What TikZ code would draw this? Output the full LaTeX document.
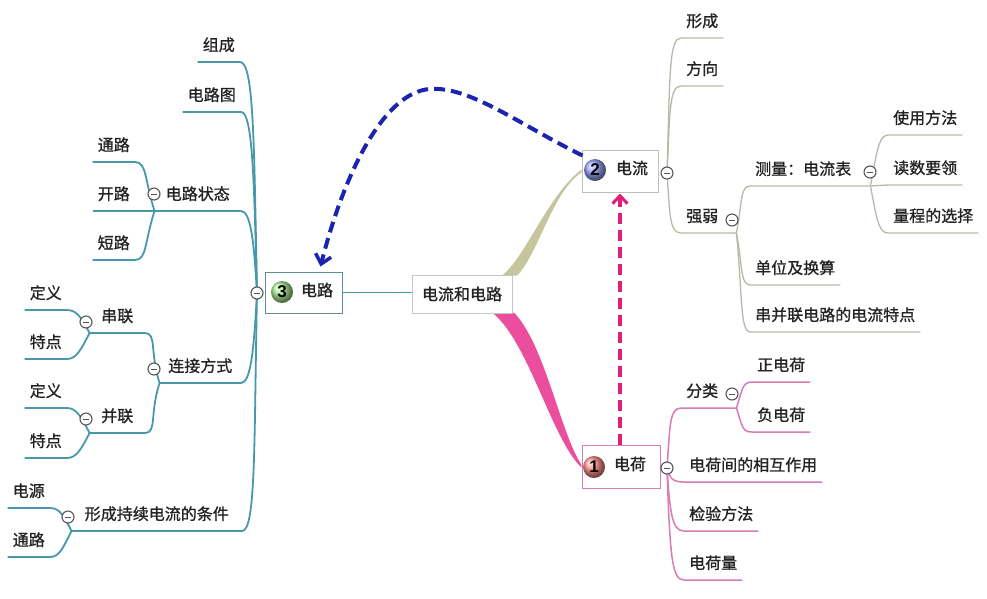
\documentclass[tikz,border=0pt]{standalone}
\usepackage{fontspec}
\setmainfont{Noto Sans CJK SC}
\newfontfamily\cjkb{Noto Sans CJK SC}[FakeBold=1]
\newfontfamily\numfont{Liberation Sans}
\usetikzlibrary{arrows.meta,calc}
\definecolor{tealc}{RGB}{72,152,172}
\definecolor{greyc}{RGB}{185,185,170}
\definecolor{pinkc}{RGB}{215,125,180}
\definecolor{khakic}{RGB}{198,198,158}
\definecolor{pinkw}{RGB}{236,78,158}
\definecolor{blued}{RGB}{28,36,175}
\definecolor{pinkd}{RGB}{226,30,120}
\definecolor{txtc}{RGB}{35,35,35}
\definecolor{colc}{RGB}{85,85,85}
\pgfdeclarelayer{back}
\pgfdeclarelayer{bg}
\pgfsetlayers{back,bg,main}
\begin{document}
\begin{tikzpicture}[x=1pt,y=-1pt,
  txt/.style={font=\cjkb\fontsize{16}{18}\selectfont, text=txtc, inner xsep=5pt, inner ysep=2pt, text height=14pt, text depth=9pt},
  lf/.style={txt, anchor=south east},
  rt/.style={txt, anchor=south west},
  col/.style={circle, draw=colc, line width=1.1pt, fill=white, minimum size=12pt, inner sep=0pt,
     path picture={\draw[colc, line width=1pt] ([xshift=-2.8pt]path picture bounding box.center) -- ([xshift=2.8pt]path picture bounding box.center);}},
  mbox/.style={rectangle, fill=white, line width=1pt, inner sep=0pt, font=\cjkb\fontsize{16}{18}\selectfont, text=txtc},
  ball/.style={circle, inner sep=0pt, minimum size=22pt, font=\numfont\bfseries\fontsize{17}{17}\selectfont, text=black},
  mtxt/.style={font=\cjkb\fontsize{16}{18}\selectfont, text=txtc, inner sep=0pt},
  tl/.style={draw=tealc, line width=1.8pt},
  gl/.style={draw=greyc, line width=1.3pt},
  pl/.style={draw=pinkc, line width=1.5pt},
]
\begin{pgfonlayer}{back}
\fill[white] (0,0) rectangle (987,598);
\end{pgfonlayer}
\useasboundingbox (0,0) rectangle (987,598);

% main boxes
\node[mbox, draw=gray!45, minimum width=100pt, minimum height=38pt] (c) at (462,294) {电流和电路};
\node[mbox, draw=tealc!55!gray, minimum width=77pt, minimum height=41pt] (n3) at (303.5,292.5) {};
\node[ball, ball color={rgb,255:red,175;green,240;blue,150}] (b3) at (282,292) {3};
\node[mtxt] (t3) at (317,290) {电路};
\node[mbox, draw=gray!50, minimum width=76pt, minimum height=42pt] (n2) at (620,171) {};
\node[ball, ball color={rgb,255:red,155;green,165;blue,250}] (b2) at (595,170) {2};
\node[mtxt] (t2) at (632,168) {电流};
\node[mbox, draw=pinkc, minimum width=78pt, minimum height=43pt] (n1) at (621,466.5) {};
\node[ball, ball color={rgb,255:red,255;green,150;blue,140}] (b1) at (594,467) {1};
\node[mtxt] (t1) at (630,464) {电荷};

% left leaves
\node[lf] (zc) at (240,62) {组成};
\node[lf] (dlt) at (241,112) {电路图};
\node[lf, text width=76pt, align=center] (zt) at (241,211) {电路状态};
\node[lf] (tl1) at (135,162) {通路};
\node[lf] (kl) at (135,211) {开路};
\node[lf] (dl) at (135,260) {短路};
\node[lf, text width=71pt, align=center] (lj) at (241,383) {连接方式};
\node[lf, text width=45pt, align=center] (cl2) at (145,333) {串联};
\node[lf] (dy1) at (67,310) {定义};
\node[lf] (td1) at (67,359) {特点};
\node[lf, text width=45pt, align=center] (bl) at (145,433) {并联};
\node[lf] (dy2) at (67,408) {定义};
\node[lf] (td2) at (67,458) {特点};
\node[lf, text width=160pt, align=center] (xt) at (242,531) {形成持续电流的条件};
\node[lf] (dy) at (50,508) {电源};
\node[lf] (tl2) at (50,557) {通路};

% right leaves
\node[rt] (xc) at (681,38) {形成};
\node[rt] (fx) at (681,86) {方向};
\node[rt, text width=45pt, align=left] (qr) at (681,233) {强弱};
\node[rt, text width=110pt, align=left] (cl) at (750,186) {测量：电流表};
\node[rt] (sy) at (888,135) {使用方法};
\node[rt] (ds) at (888,185) {读数要领};
\node[rt] (lc) at (888,233) {量程的选择};
\node[rt] (dw) at (750,285) {单位及换算};
\node[rt] (cb) at (750,332) {串并联电路的电流特点};
\node[rt, text width=45pt, align=left] (fl) at (681,408) {分类};
\node[rt] (zd) at (752,382) {正电荷};
\node[rt] (fd) at (752,432) {负电荷};
\node[rt] (xh) at (684,482) {电荷间的相互作用};
\node[rt] (jy) at (684,531) {检验方法};
\node[rt] (dl2) at (684,580) {电荷量};

% collapse markers
\node[col] (k3) at (257,293) {};
\node[col] (k2) at (667,173) {};
\node[col] (k1) at (667,468) {};
\node[col] (kqr) at (732,220) {};
\node[col] (kcl) at (870,172) {};
\node[col] (kfl) at (732,394) {};
\node[col] (kzt) at (154,194) {};
\node[col] (klj) at (154,369) {};
\node[col] (kcl2) at (86,322) {};
\node[col] (kbl) at (86,419) {};
\node[col] (kxt) at (68,517) {};

\begin{pgfonlayer}{bg}
% wedges
\fill[khakic] ($(c.north)+(40,1)$) .. controls (525,258) and (548,195) .. ($(n2.west)+(0,-1.5)$)
   -- ($(n2.west)+(0,1.5)$) .. controls (552,192) and (538,255) .. ($(c.north)+(55,1)$) -- cycle;
\fill[pinkw] ($(c.south)+(30,-1)$) .. controls (528,340) and (552,440) .. ($(n1.west)+(0,1)$)
   -- ($(n1.west)+(0,-1.5)$) .. controls (560,432) and (545,345) .. ($(c.south)+(52,-1)$) -- cycle;
\draw[tl] (n3.east) -- (n3.east -| c.west);
% teal
\draw[tl] (k3.center) .. controls +(-3,-150) and +(14,0) .. (zc.south east) -- (zc.south west);
\draw[tl] (k3.center) .. controls +(-3,-110) and +(12,0) .. (dlt.south east) -- (dlt.south west);
\draw[tl] (k3.center) .. controls +(-3,-50) and +(10,0) .. (zt.south east) -- (zt.south west);
\draw[tl] (k3.center) .. controls +(-3,55) and +(10,0) .. (lj.south east) -- (lj.south west);
\draw[tl] (k3.center) .. controls +(-3,150) and +(14,0) .. (xt.south east) -- (xt.south west);
\draw[tl] (zt.south west) .. controls +(-10,-30) and +(12,0) .. (tl1.south east) -- (tl1.south west);
\draw[tl] (zt.south west) -- (kl.south east) -- (kl.south west);
\draw[tl] (zt.south west) .. controls +(-10,30) and +(12,0) .. (dl.south east) -- (dl.south west);
\draw[tl] (lj.south west) .. controls +(-10,-30) and +(12,0) .. (cl2.south east) -- (cl2.south west);
\draw[tl] (lj.south west) .. controls +(-10,30) and +(12,0) .. (bl.south east) -- (bl.south west);
\draw[tl] (cl2.south west) .. controls +(-8,-15) and +(10,0) .. (dy1.south east) -- (dy1.south west);
\draw[tl] (cl2.south west) .. controls +(-8,15) and +(10,0) .. (td1.south east) -- (td1.south west);
\draw[tl] (bl.south west) .. controls +(-8,-15) and +(10,0) .. (dy2.south east) -- (dy2.south west);
\draw[tl] (bl.south west) .. controls +(-8,15) and +(10,0) .. (td2.south east) -- (td2.south west);
\draw[tl] (xt.south west) .. controls +(-8,-15) and +(10,0) .. (dy.south east) -- (dy.south west);
\draw[tl] (xt.south west) .. controls +(-8,15) and +(10,0) .. (tl2.south east) -- (tl2.south west);
% grey
\draw[gl] (k2.center) .. controls +(3,-100) and +(-12,0) .. (xc.south west) -- (xc.south east);
\draw[gl] (k2.center) .. controls +(3,-60) and +(-12,0) .. (fx.south west) -- (fx.south east);
\draw[gl] (k2.center) .. controls +(3,40) and +(-12,0) .. (qr.south west) -- (qr.south east);
\draw[gl] (qr.south east) .. controls +(6,-30) and +(-10,0) .. (cl.south west) -- (cl.south east);
\draw[gl] (qr.south east) .. controls +(6,30) and +(-10,0) .. (dw.south west) -- (dw.south east);
\draw[gl] (qr.south east) .. controls +(6,60) and +(-10,0) .. (cb.south west) -- (cb.south east);
\draw[gl] (cl.south east) .. controls +(6,-30) and +(-10,0) .. (sy.south west) -- (sy.south east);
\draw[gl] (cl.south east) -- (ds.south west) -- (ds.south east);
\draw[gl] (cl.south east) .. controls +(6,30) and +(-10,0) .. (lc.south west) -- (lc.south east);
% pink
\draw[pl] (k1.center) .. controls +(3,-40) and +(-12,0) .. (fl.south west) -- (fl.south east);
\draw[pl] (k1.center) .. controls +(3,10) and +(-12,0) .. (xh.south west) -- (xh.south east);
\draw[pl] (k1.center) .. controls +(3,45) and +(-12,0) .. (jy.south west) -- (jy.south east);
\draw[pl] (k1.center) .. controls +(3,90) and +(-12,0) .. (dl2.south west) -- (dl2.south east);
\draw[pl] (fl.south east) .. controls +(6,-18) and +(-10,0) .. (zd.south west) -- (zd.south east);
\draw[pl] (fl.south east) .. controls +(6,18) and +(-10,0) .. (fd.south west) -- (fd.south east);
\end{pgfonlayer}

% dashed relation arrows
\draw[blued, line width=4pt, dash pattern=on 11pt off 6pt, -{Straight Barb[length=9pt,width=16pt,line width=3.5pt]}]
  ($(n2.north west)+(1,6)$) .. controls (520,125) and (470,86) .. (430,89)
  .. controls (385,92) and (345,170) .. ($(n3.north)+(17,-5)$);
\draw[pinkd, line width=3.5pt, dash pattern=on 11pt off 6pt, -{Straight Barb[length=8pt,width=15pt,line width=3pt]}]
  (n1.north -| n2.south) -- ($(n2.south)+(0,1)$);
\end{tikzpicture}
\end{document}
